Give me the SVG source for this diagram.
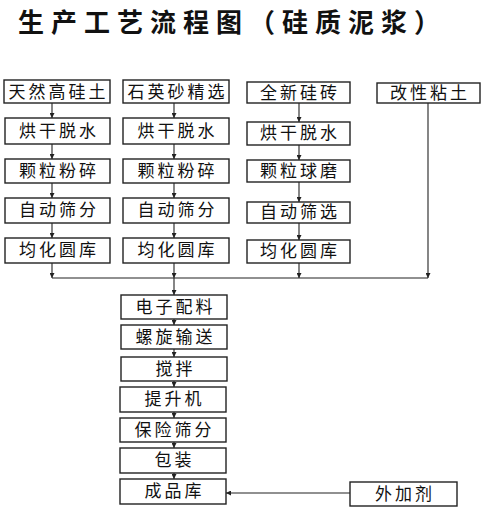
<svg xmlns="http://www.w3.org/2000/svg" width="486" height="512" viewBox="0 0 486 512">
<style>
.box{fill:#fff;stroke:#222;stroke-width:1.4}
.t{font-family:"Noto Sans CJK SC","Noto Sans CJK JP",sans-serif;font-size:17px;fill:#111;text-anchor:middle;letter-spacing:3px}
.title{font-family:"Noto Sans CJK SC",sans-serif;font-size:26px;font-weight:bold;fill:#111;letter-spacing:7px}
.ln{fill:none;stroke:#222;stroke-width:1.1}
</style>
<defs>
<marker id="ah" viewBox="0 0 6 6" refX="6" refY="3" markerWidth="5" markerHeight="5" orient="auto" markerUnits="userSpaceOnUse">
<path d="M0,0 L6,3 L0,6 z" fill="#222"/>
</marker>
</defs>
<rect width="486" height="512" fill="#fff"/>
<text class="title" x="18" y="32">生产工艺流程图（硅质泥浆）</text>

<g id="connectors">
<path class="ln" marker-end="url(#ah)" d="M52,103 V118"/>
<path class="ln" marker-end="url(#ah)" d="M52,144 V159"/>
<path class="ln" marker-end="url(#ah)" d="M52,183 V198"/>
<path class="ln" marker-end="url(#ah)" d="M52,223 V238"/>
<path class="ln" marker-end="url(#ah)" d="M52,263 V278"/>
<path class="ln" marker-end="url(#ah)" d="M174,103 V118"/>
<path class="ln" marker-end="url(#ah)" d="M174,144 V159"/>
<path class="ln" marker-end="url(#ah)" d="M174,183 V198"/>
<path class="ln" marker-end="url(#ah)" d="M174,223 V238"/>
<path class="ln" marker-end="url(#ah)" d="M174,263 V278"/>
<path class="ln" marker-end="url(#ah)" d="M299,103 V122"/>
<path class="ln" marker-end="url(#ah)" d="M299,145 V160"/>
<path class="ln" marker-end="url(#ah)" d="M299,182 V202"/>
<path class="ln" marker-end="url(#ah)" d="M299,223 V240"/>
<path class="ln" marker-end="url(#ah)" d="M299,263 V278"/>
<path class="ln" marker-end="url(#ah)" d="M428,103 V278"/>
<path class="ln" d="M52,278 H428"/>
<path class="ln" marker-end="url(#ah)" d="M174,278 V295"/>
<path class="ln" marker-end="url(#ah)" d="M174,319 V325"/>
<path class="ln" marker-end="url(#ah)" d="M174,349 V357"/>
<path class="ln" marker-end="url(#ah)" d="M174,381 V387"/>
<path class="ln" marker-end="url(#ah)" d="M174,412 V418"/>
<path class="ln" marker-end="url(#ah)" d="M174,442 V448"/>
<path class="ln" marker-end="url(#ah)" d="M174,473 V479"/>
<path class="ln" marker-end="url(#ah)" d="M350,493 H226"/>
</g>

<g id="n1"><rect class="box" x="4" y="80" width="106" height="23"/><text class="t" x="58.5" y="98">天然高硅土</text></g>
<g id="n2"><rect class="box" x="5" y="118" width="105" height="26"/><text class="t" x="59" y="137">烘干脱水</text></g>
<g id="n3"><rect class="box" x="5" y="159" width="105" height="24"/><text class="t" x="59" y="177">颗粒粉碎</text></g>
<g id="n4"><rect class="box" x="5" y="198" width="105" height="25"/><text class="t" x="59" y="216">自动筛分</text></g>
<g id="n5"><rect class="box" x="5" y="238" width="105" height="25"/><text class="t" x="59" y="256">均化圆库</text></g>

<g id="n6"><rect class="box" x="123" y="80" width="106" height="23"/><text class="t" x="177.5" y="98">石英砂精选</text></g>
<g id="n7"><rect class="box" x="123" y="118" width="106" height="26"/><text class="t" x="177.5" y="137">烘干脱水</text></g>
<g id="n8"><rect class="box" x="123" y="159" width="106" height="24"/><text class="t" x="177.5" y="177">颗粒粉碎</text></g>
<g id="n9"><rect class="box" x="123" y="198" width="106" height="25"/><text class="t" x="177.5" y="216">自动筛分</text></g>
<g id="n10"><rect class="box" x="123" y="238" width="106" height="25"/><text class="t" x="177.5" y="256">均化圆库</text></g>

<g id="n11"><rect class="box" x="247" y="82" width="103" height="21"/><text class="t" x="300" y="99">全新硅砖</text></g>
<g id="n12"><rect class="box" x="247" y="122" width="103" height="23"/><text class="t" x="300" y="139">烘干脱水</text></g>
<g id="n13"><rect class="box" x="247" y="160" width="103" height="22"/><text class="t" x="300" y="177">颗粒球磨</text></g>
<g id="n14"><rect class="box" x="247" y="202" width="103" height="21"/><text class="t" x="300" y="218">自动筛选</text></g>
<g id="n15"><rect class="box" x="247" y="240" width="103" height="23"/><text class="t" x="300" y="257">均化圆库</text></g>

<g id="n16"><rect class="box" x="377" y="83" width="103" height="20"/><text class="t" x="430" y="99">改性粘土</text></g>

<g id="n17"><rect class="box" x="121" y="295" width="106" height="24"/><text class="t" x="175.5" y="313">电子配料</text></g>
<g id="n18"><rect class="box" x="121" y="325" width="106" height="24"/><text class="t" x="175.5" y="343">螺旋输送</text></g>
<g id="n19"><rect class="box" x="121" y="357" width="106" height="24"/><text class="t" x="175.5" y="375">搅拌</text></g>
<g id="n20"><rect class="box" x="120" y="387" width="106" height="25"/><text class="t" x="174.5" y="405">提升机</text></g>
<g id="n21"><rect class="box" x="120" y="418" width="106" height="24"/><text class="t" x="174.5" y="436">保险筛分</text></g>
<g id="n22"><rect class="box" x="120" y="448" width="106" height="25"/><text class="t" x="174.5" y="466">包装</text></g>
<g id="n23"><rect class="box" x="120" y="479" width="106" height="25"/><text class="t" x="174.5" y="497">成品库</text></g>
<g id="n24"><rect class="box" x="350" y="482" width="107" height="24"/><text class="t" x="405" y="500">外加剂</text></g>
</svg>
